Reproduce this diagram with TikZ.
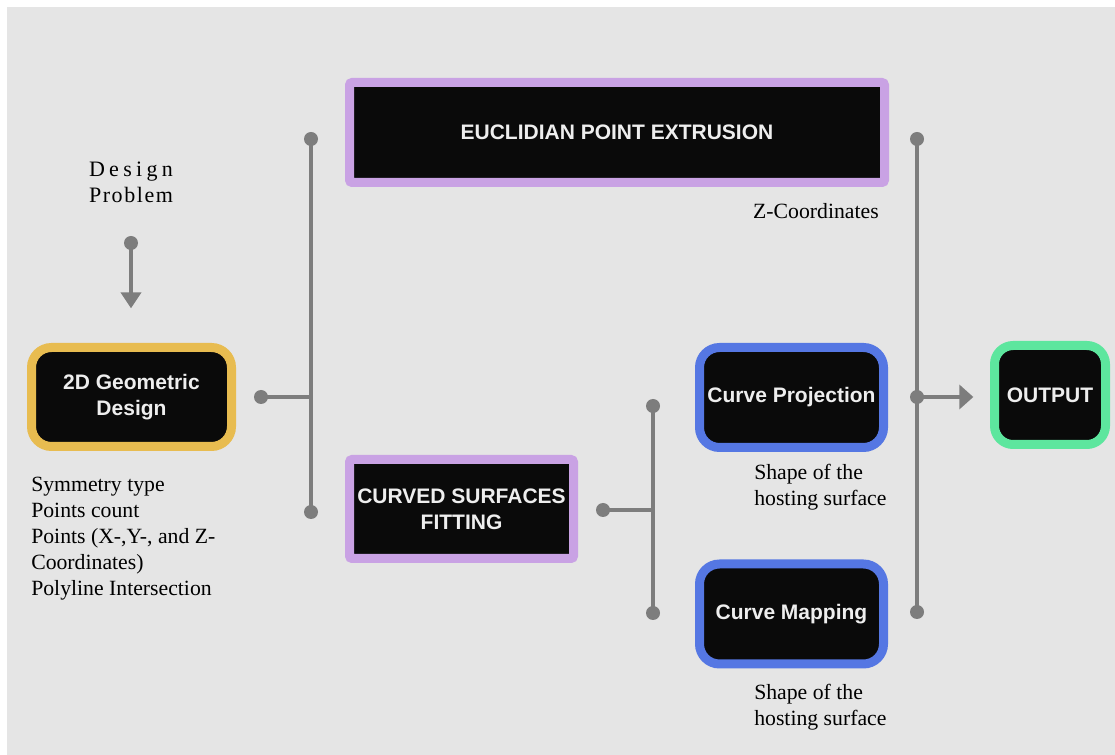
\documentclass[tikz,border=0pt]{standalone}
\usepackage{fontspec}
\setmainfont{Liberation Serif}
\setsansfont{Liberation Sans}
\usetikzlibrary{arrows.meta}
\definecolor{bggrey}{HTML}{E5E5E5}
\definecolor{boxblack}{HTML}{0A0A0A}
\definecolor{boxtext}{HTML}{EEEEEE}
\definecolor{cyellow}{HTML}{E8BC50}
\definecolor{cpurple}{HTML}{C9A2E4}
\definecolor{cblue}{HTML}{5577E3}
\definecolor{cgreen}{HTML}{5DE69E}
\definecolor{lgrey}{HTML}{7D7D7D}
\tikzset{
  boxnode/.style={rectangle, fill=boxblack, line width=6.75pt, text=boxtext,
    font=\sffamily\bfseries\fontsize{15.75}{20}\selectfont, align=center, inner sep=0pt},
  labeltext/.style={font=\fontsize{16.3}{19.5}\selectfont, align=left, inner sep=0pt, text=black},
  conn/.style={draw=lgrey, line width=3pt},
  dot/.style={fill=lgrey, draw=none},
  arrowline/.style={draw=lgrey, line width=3pt, -{Triangle[length=12pt,width=15pt]}},
}
\begin{document}
\begin{tikzpicture}[x=0.75pt, y=-0.75pt]
\useasboundingbox (0,0) rectangle (1115,755);
\fill[white] (0,0) rectangle (1115,755);
\fill[bggrey] (7,7) rectangle (1115,755);

% Nodes
\node[font=\fontsize{16.5}{19.5}\selectfont, align=center, inner sep=0pt] (dp) at (131,182)
  {\makebox[63pt][s]{D\hfill e\hfill s\hfill i\hfill g\hfill n}\\
   \makebox[63pt][s]{P\hfill r\hfill o\hfill b\hfill l\hfill e\hfill m}};
\node[boxnode, draw=cyellow, rounded corners=15pt, minimum width=150pt, minimum height=74.25pt] (g2d) at (131.5,397) {\raisebox{-1.5pt}{\parbox{150pt}{\centering 2D Geometric\\Design}}};
\node[boxnode, draw=cpurple, rounded corners=2pt, minimum width=401.25pt, minimum height=75pt] (eu) at (617,132.5) {\raisebox{-1pt}{EUCLIDIAN POINT EXTRUSION}};
\node[boxnode, draw=cpurple, rounded corners=2pt, minimum width=168pt, minimum height=74.25pt, font=\sffamily\bfseries\fontsize{15.75}{19.5}\selectfont] (cs) at (461.5,509) {CURVED SURFACES\\FITTING};
\node[boxnode, draw=cblue, rounded corners=15pt, minimum width=138pt, minimum height=75pt] (cp) at (791.5,397.5) {\raisebox{-1.5pt}{Curve Projection}};
\node[boxnode, draw=cblue, rounded corners=15pt, minimum width=138pt, minimum height=75pt] (cm) at (791.5,614) {\raisebox{-1.5pt}{Curve Mapping}};
\node[boxnode, draw=cgreen, rounded corners=14pt, minimum width=83.25pt, minimum height=74.25pt] (out) at (1050,395) {\raisebox{-1pt}{OUTPUT}};

% Labels
\node[labeltext, anchor=east] (zc) at (879,211) {Z-Coordinates};
\node[labeltext, anchor=west] (sh1) at (754,487) {Shape of the\\hosting surface};
\node[labeltext, anchor=west] (sh2) at (754,707) {Shape of the\\hosting surface};
\node[labeltext, anchor=west] (list) at (31,538.5) {Symmetry type\\Points count\\Points (X-,Y-, and Z-\\Coordinates)\\Polyline Intersection};

% Connector coordinates
\coordinate (dpdot) at (131,243);
\coordinate (b1top) at (311,139);
\coordinate (b1bot) at (311,512);
\coordinate (b1in) at (261,397);
\coordinate (b2top) at (653,406);
\coordinate (b2bot) at (653,613);
\coordinate (b2in) at (603,510);
\coordinate (b3top) at (917,139);
\coordinate (b3bot) at (917,612);
\coordinate (b3mid) at (917,397);

% Design problem arrow
\draw[arrowline, shorten >=26pt] (dpdot) -- (dpdot |- g2d.north);
% Bus 1
\draw[conn] (b1top) -- (b1bot);
\draw[conn] (b1in) -- (b1in -| b1top);
% Bus 2
\draw[conn] (b2top) -- (b2bot);
\draw[conn] (b2in) -- (b2in -| b2top);
% Bus 3
\draw[conn] (b3top) -- (b3bot);
\draw[draw=lgrey, line width=3pt, -{Triangle[length=10.5pt,width=18pt]}, shorten >=12.5pt] (b3mid) -- (b3mid -| out.west);

% Dots
\foreach \c in {dpdot,b1top,b1bot,b1in,b2top,b2bot,b2in,b3top,b3bot,b3mid}
  \fill[dot] (\c) circle[radius=5.25pt];
\end{tikzpicture}
\end{document}
